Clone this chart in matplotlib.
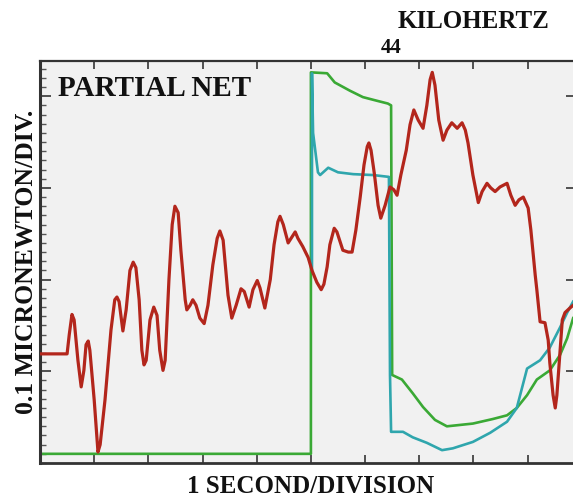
import matplotlib
matplotlib.use("Agg")
import matplotlib.pyplot as plt
from matplotlib.ticker import FixedLocator, MultipleLocator, NullFormatter

# Time in seconds (1 s per division), force in divisions (0.1 micronewton per division)
partial_t = [0.00, 0.50, 0.54, 0.59, 0.63, 0.70, 0.76, 0.81, 0.85, 0.89, 0.92, 1.00,
             1.07, 1.11, 1.20, 1.31, 1.38, 1.42, 1.46, 1.53, 1.59, 1.66, 1.72, 1.77,
             1.83, 1.88, 1.92, 1.96, 2.03, 2.10, 2.16, 2.21, 2.27, 2.31, 2.38, 2.44,
             2.49, 2.55, 2.60, 2.68, 2.71, 2.77, 2.82, 2.88, 2.95, 3.03, 3.10, 3.19,
             3.27, 3.32, 3.38, 3.47, 3.54, 3.62, 3.71, 3.77, 3.86, 3.93, 4.01, 4.06,
             4.15, 4.25, 4.32, 4.39, 4.43, 4.49, 4.58, 4.71, 4.76, 4.85, 4.95, 5.02,
             5.11, 5.19, 5.24, 5.30, 5.35, 5.43, 5.48, 5.59, 5.69, 5.76, 5.83, 5.91,
             5.98, 6.04, 6.07, 6.11, 6.17, 6.24, 6.29, 6.37, 6.46, 6.53, 6.59, 6.66,
             6.76, 6.83, 6.90, 6.98, 7.07, 7.14, 7.20, 7.24, 7.29, 7.36, 7.44, 7.51,
             7.60, 7.70, 7.79, 7.85, 7.90, 7.99, 8.09, 8.16, 8.25, 8.32, 8.40, 8.49,
             8.62, 8.69, 8.77, 8.84, 8.92, 9.01, 9.06, 9.14, 9.17, 9.23, 9.32, 9.38,
             9.41, 9.47, 9.51, 9.54, 9.60, 9.64, 9.69, 9.78, 9.84]
partial_f = [1.19, 1.19, 1.40, 1.62, 1.56, 1.12, 0.83, 1.01, 1.29, 1.33, 1.23, 0.69,
             0.12, 0.20, 0.69, 1.45, 1.78, 1.81, 1.76, 1.44, 1.67, 2.10, 2.19, 2.13,
             1.78, 1.23, 1.07, 1.12, 1.56, 1.70, 1.61, 1.23, 1.01, 1.12, 2.00, 2.60,
             2.80, 2.73, 2.32, 1.78, 1.67, 1.72, 1.78, 1.72, 1.58, 1.52, 1.72, 2.16,
             2.45, 2.53, 2.43, 1.83, 1.58, 1.72, 1.90, 1.87, 1.70, 1.89, 1.99, 1.91,
             1.69, 2.00, 2.38, 2.63, 2.69, 2.60, 2.40, 2.52, 2.45, 2.36, 2.24, 2.10,
             1.97, 1.89, 1.95, 2.14, 2.38, 2.56, 2.52, 2.32, 2.30, 2.30, 2.54, 2.90,
             3.25, 3.45, 3.49, 3.41, 3.16, 2.81, 2.67, 2.81, 3.01, 2.98, 2.92, 3.14,
             3.41, 3.69, 3.85, 3.74, 3.65, 3.90, 4.18, 4.26, 4.12, 3.74, 3.52, 3.63,
             3.71, 3.65, 3.71, 3.63, 3.49, 3.14, 2.84, 2.96, 3.05, 3.00, 2.96, 3.01,
             3.05, 2.92, 2.81, 2.87, 2.90, 2.78, 2.54, 2.05, 1.89, 1.54, 1.53, 1.34,
             1.09, 0.74, 0.60, 0.74, 1.23, 1.56, 1.64, 1.69, 1.72]

drive_t = [0.00, 5.00, 5.00, 5.30, 5.44, 5.72, 5.96, 6.22, 6.42, 6.48, 6.50, 6.68,
           6.88, 7.07, 7.29, 7.51, 7.99, 8.36, 8.62, 8.80, 8.99, 9.17, 9.41, 9.60,
           9.73, 9.84]
drive_f = [0.10, 0.10, 4.26, 4.25, 4.15, 4.06, 3.99, 3.95, 3.92, 3.90, 0.96, 0.91,
           0.76, 0.61, 0.47, 0.40, 0.43, 0.48, 0.52, 0.60, 0.74, 0.91, 1.01, 1.18,
           1.36, 1.58]

net_t = [5.02, 5.02, 5.04, 5.08, 5.13, 5.17, 5.32, 5.50, 5.78, 6.15, 6.44, 6.46,
         6.48, 6.70, 6.88, 7.14, 7.42, 7.62, 7.99, 8.31, 8.62, 8.80, 8.99, 9.23,
         9.41, 9.60, 9.73, 9.84]
net_f = [2.10, 4.25, 3.60, 3.41, 3.17, 3.14, 3.22, 3.17, 3.15, 3.14, 3.12, 0.96,
         0.34, 0.34, 0.28, 0.22, 0.14, 0.16, 0.23, 0.33, 0.45, 0.60, 1.03, 1.12,
         1.26, 1.48, 1.64, 1.76]

x_ticks = [1, 2, 3, 4, 5, 6, 7, 8, 9]
y_ticks = [1, 2, 3, 4]

W, H = 573, 498
fig = plt.figure(figsize=(W / 100, H / 100), dpi=100)
fig.patch.set_facecolor("white")
ax = fig.add_axes([40 / W, 35 / H, (577 - 40) / W, (463 - 60.7) / H])
ax.set_facecolor("#f1f1f1")
ax.set_xlim(0, 537 / 54.18)
ax.set_ylim(0, 402.3 / 91.7)

ax.plot(drive_t, drive_f, color="#3aa935", lw=1.9, solid_joinstyle="round", zorder=2)
ax.plot(net_t, net_f, color="#2fa6ad", lw=1.9, solid_joinstyle="round", zorder=3)
ax.plot(partial_t, partial_f, color="#b3261c", lw=2.3, solid_joinstyle="round", zorder=4)

for side in ax.spines.values():
    side.set_color("#333333")
    side.set_linewidth(1.6)
ax.spines["left"].set_linewidth(2.2)
ax.spines["bottom"].set_linewidth(2.0)

ax.xaxis.set_major_locator(FixedLocator(x_ticks))
ax.yaxis.set_major_locator(FixedLocator(y_ticks))
ax.yaxis.set_minor_locator(MultipleLocator(0.1))
ax.xaxis.set_major_formatter(NullFormatter())
ax.yaxis.set_major_formatter(NullFormatter())
ax.tick_params(axis="x", which="major", direction="in", length=6, width=1.3,
               color="#444444", top=True, bottom=True)
ax.tick_params(axis="y", which="major", direction="in", length=8, width=1.3,
               color="#444444", left=True, right=True)
ax.tick_params(axis="y", which="minor", direction="in", length=4, width=1.0,
               color="#555555", left=True, right=False)

serif = ["Liberation Serif", "DejaVu Serif"]
fig.text(58.5 / W, 1 - 96.5 / H, "PARTIAL NET", family=serif, weight="bold",
         fontsize=21, ha="left", va="baseline", color="#111111")
fig.text(473.5 / W, 1 - 28 / H, "KILOHERTZ", family=serif, weight="bold",
         fontsize=18, ha="center", va="baseline", color="#111111")
fig.text(391.5 / W, 1 - 53 / H, "44", family=serif, weight="bold",
         fontsize=15, ha="center", va="baseline", color="#111111")
fig.text(311 / W, 1 - 493 / H, "1 SECOND/DIVISION", family=serif, weight="bold",
         fontsize=18, ha="center", va="baseline", color="#111111")
fig.text(33 / W, 1 - 262 / H, "0.1 MICRONEWTON/DIV.", family=serif, weight="bold",
         fontsize=18.5, ha="center", va="baseline", rotation=90,
         rotation_mode="anchor", color="#111111")

fig.savefig("out.png", dpi=100)
